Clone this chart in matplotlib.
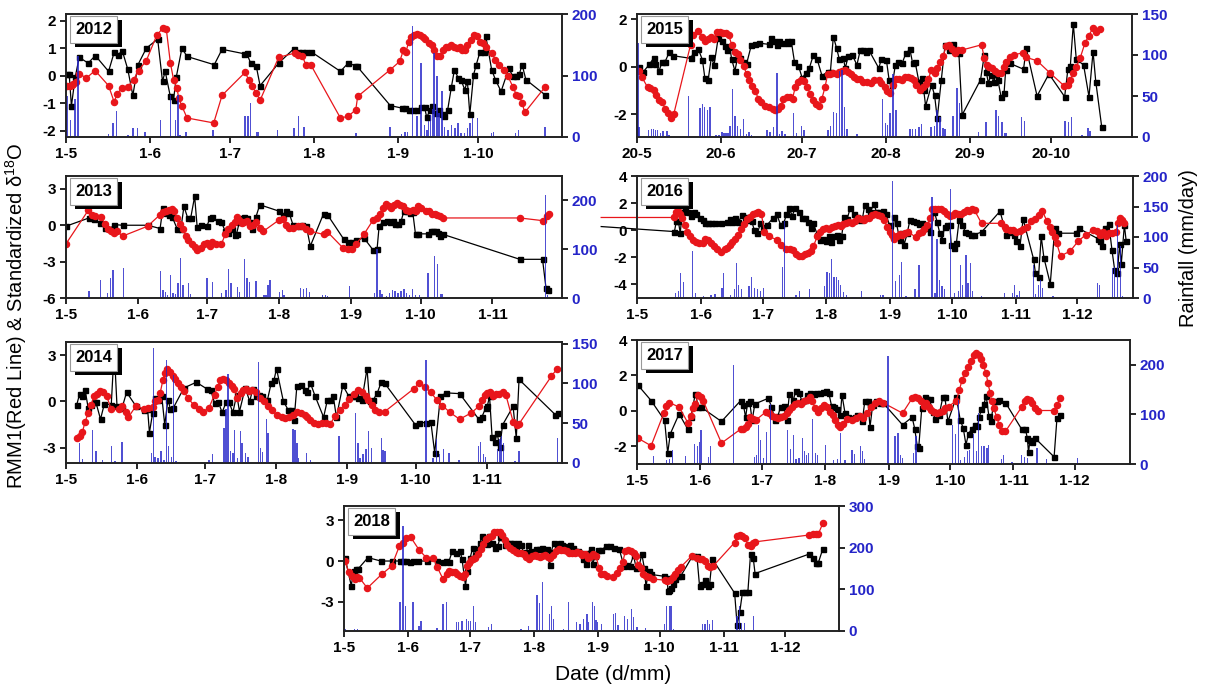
import numpy as np
import matplotlib
matplotlib.use("Agg")
from matplotlib import pyplot as plt
from matplotlib.patches import Rectangle

plt.rcParams["font.family"] = ["Liberation Sans", "DejaVu Sans"]
plt.rcParams["mathtext.fontset"] = "custom"
plt.rcParams["mathtext.rm"] = "Liberation Sans"
plt.rcParams["mathtext.it"] = "Liberation Sans:italic"
plt.rcParams["mathtext.bf"] = "Liberation Sans:bold"

# x values are days after 1 May (after 20 May for 2015)
month_start = [0, 31, 61, 92, 123, 153, 184, 214]
month_num = [5, 6, 7, 8, 9, 10, 11, 12]

# (day, standardized d18O) -- black squares
d18o_2012 = [(0.4,0.05),(1.2,0.05),(2.0,-1.10),(3.4,-0.06),(4.9,0.67),(8.2,0.46),(10.9,0.73),(15.8,0.16),(17.9,0.86),(19.2,0.76),(20.9,0.90),(22.9,0.24),(24.8,-0.71),(26.7,0.40),(29.8,1.00),(34.0,1.33),(35.8,-0.20),(36.8,0.16),(38.7,-0.75),(39.9,-0.87),(40.9,-0.05),(43.0,1.00),(44.9,0.70),(55.0,0.40),(57.9,0.96),(66.0,0.80),(67.0,0.82),(68.5,0.46),(70.6,0.34),(72.0,-0.36),(78.9,0.46),(84.5,0.98),(86.0,0.88),(87.5,0.88),(89.0,0.88),(90.8,0.88),(101.8,0.16),(104.7,0.46),(107.2,0.37),(108.0,0.34),(120.3,-1.08),(124.5,-1.17),(125.9,-1.17),(127.4,-1.25),(128.8,-1.23),(130.2,-1.25),(131.6,-1.13),(133.0,-1.13),(133.8,-1.50),(135.2,-1.23),(135.9,-1.11),(137.3,-1.35),(138.4,-1.23),(139.4,-1.40),(140.1,-1.47),(141.6,-1.23),(143.0,-0.39),(144.1,0.22),(145.5,-0.08),(146.5,-0.14),(147.9,-0.50),(148.9,-0.20),(149.8,-1.40),(151.2,0.04),(152.2,0.40),(153.6,0.88),(155.0,0.86),(155.7,1.46),(157.9,0.22),(159.3,-0.14),(161.4,-0.57),(164.3,0.28),(165.7,-0.02),(167.1,-0.02),(168.2,0.07),(169.2,0.40),(170.6,-0.14),(177.7,-0.69)]
rmm_2012 = [(0.4,-0.36),(1.3,-0.36),(2.1,-0.34),(2.7,-0.30),(3.6,-0.24),(4.9,0.07),(7.6,-0.08),(10.8,0.19),(15.8,-0.36),(17.9,-0.96),(18.9,-0.65),(20.8,-0.45),(22.9,-0.39),(25.1,-0.14),(26.9,0.19),(29.8,0.55),(33.7,1.48),(35.9,1.72),(37.2,1.70),(38.7,0.48),(39.9,-0.14),(41.2,-0.45),(41.8,-0.81),(43.0,-1.10),(44.9,-1.53),(54.8,-1.71),(57.9,-0.71),(66.4,0.12),(67.8,-0.14),(68.9,-0.36),(70.6,-0.63),(72.0,-0.89),(78.9,0.67),(84.8,0.82),(86.2,0.76),(87.7,0.70),(89.0,0.40),(90.8,0.40),(101.8,-1.53),(104.7,-1.47),(107.5,-1.23),(108.2,-0.75),(120.3,0.22),(123.8,0.52),(125.2,0.94),(126.2,0.88),(127.1,1.24),(128.1,1.40),(129.1,1.48),(130.2,1.50),(131.3,1.48),(132.3,1.42),(133.3,1.33),(134.5,1.18),(135.6,1.12),(136.6,0.94),(137.6,0.72),(138.7,0.72),(139.9,0.94),(140.9,1.06),(141.8,1.04),(142.9,1.12),(144.1,1.06),(145.1,1.00),(146.1,1.06),(146.9,0.94),(147.9,0.94),(148.9,1.12),(150.4,1.30),(151.5,1.48),(152.6,1.45),(153.6,1.24),(154.6,1.18),(155.7,1.06),(157.9,0.84),(159.3,0.58),(160.7,0.40),(162.6,0.22),(164.0,-0.02),(165.7,-0.39),(167.1,-0.69),(168.2,-0.75),(169.2,-0.99),(170.2,-1.33),(177.7,-0.41)]
rain_2012 = [(0.4,66),(1.6,28),(3.4,61),(4.4,131),(15.8,5),(17.5,23),(18.7,42),(22.9,3),(24.8,15),(26.5,15),(29.4,8),(35.1,28),(38.7,69),(40.6,28),(41.5,69),(42.4,4),(44.5,8),(54.5,11),(66.4,34),(67.5,34),(68.5,55),(70.6,8),(71.3,8),(78.4,11),(84.5,15),(86.2,34),(88.4,16),(107.5,6),(120.3,16),(124.5,5),(125.7,8),(126.7,8),(128.5,180),(130.2,34),(131.6,120),(133.0,20),(134.0,12),(134.5,26),(135.2,35),(135.9,46),(136.6,137),(137.6,99),(138.4,39),(139.4,74),(140.4,17),(141.6,11),(143.0,20),(144.4,15),(145.5,22),(146.5,6),(147.9,6),(148.9,15),(149.8,23),(150.8,31),(152.6,31),(157.9,6),(158.6,8),(166.8,6),(167.8,11),(177.7,17)]

d18o_2015 = [(0.6,0.0),(2.4,-0.21),(4.6,0.10),(6.1,0.35),(6.8,0.11),(8.2,-0.17),(9.3,0.21),(10.4,0.21),(11.9,0.60),(13.3,0.46),(19.8,0.35),(21.0,0.60),(22.7,0.73),(24.2,0.28),(25.1,-0.49),(26.3,-0.56),(27.5,0.39),(28.5,0.07),(30.0,1.20),(31.4,1.06),(32.4,0.85),(33.3,0.70),(34.3,0.82),(35.0,0.31),(36.2,-0.18),(37.2,0.39),(38.2,0.35),(39.4,0.21),(40.5,0.11),(42.3,0.92),(43.7,0.96),(45.2,0.99),(48.7,0.94),(49.5,1.20),(50.6,1.06),(51.6,0.92),(52.4,1.10),(53.9,0.99),(55.3,1.10),(56.0,0.99),(57.0,1.10),(58.2,0.21),(59.7,0.03),(61.1,-0.49),(62.3,-0.28),(63.7,-0.07),(65.2,0.49),(66.6,0.31),(68.4,-0.39),(70.5,-0.21),(71.5,-0.21),(72.6,1.27),(73.8,0.77),(74.8,0.31),(76.3,0.35),(77.0,-0.07),(78.1,0.45),(79.6,0.49),(81.3,0.07),(82.5,0.68),(83.5,0.70),(84.7,0.63),(85.7,0.70),(89.4,-0.07),(90.3,0.31),(92.2,0.28),(93.2,-0.56),(94.4,-0.77),(95.5,0.07),(96.6,0.21),(98.0,0.14),(99.4,0.56),(100.9,0.73),(101.9,0.14),(102.8,0.21),(104.2,-0.63),(105.2,-0.49),(106.0,-0.99),(106.7,-1.66),(108.9,-0.77),(110.0,-1.20),(111.0,-2.18),(112.5,-0.56),(113.9,0.92),(115.4,0.70),(116.8,0.96),(119.0,0.56),(120.2,-2.04),(127.0,-0.56),(128.4,0.49),(129.1,-0.21),(129.9,-0.70),(130.8,-0.35),(132.0,-0.63),(132.7,-0.31),(133.4,-0.56),(134.6,-1.27),(135.7,-1.13),(136.3,-0.14),(137.8,0.14),(142.9,-0.11),(143.9,0.77),(147.9,-1.24),(152.3,-0.31),(158.1,-1.27),(159.3,-0.11),(160.2,0.03),(161.3,1.80),(162.4,0.31),(165.1,0.07),(167.1,-1.27),(168.6,0.63),(169.6,-0.63),(171.8,-2.54)]
rmm_2015 = [(0.6,-0.17),(1.7,-0.42),(3.9,-0.87),(4.9,-0.92),(6.1,-0.99),(7.2,-1.20),(8.2,-1.41),(9.3,-1.48),(10.4,-1.79),(11.6,-1.97),(12.6,-2.18),(13.6,-2.00),(19.8,0.92),(20.8,1.34),(22.7,1.52),(24.2,1.24),(25.2,1.06),(26.3,1.15),(27.5,1.27),(28.5,1.15),(29.5,1.46),(30.7,1.48),(31.8,1.41),(32.9,1.41),(33.9,1.34),(35.0,0.92),(36.2,0.63),(37.2,0.54),(38.2,0.28),(39.4,0.03),(40.5,-0.31),(41.5,-0.56),(42.5,-0.82),(43.7,-1.01),(44.9,-1.38),(45.9,-1.48),(47.3,-1.66),(48.8,-1.72),(50.2,-1.78),(51.2,-1.83),(52.1,-1.80),(53.1,-1.66),(54.1,-1.38),(55.3,-1.27),(56.4,-1.30),(57.5,-1.35),(58.5,-0.87),(59.6,-0.63),(60.8,-0.56),(61.8,-0.59),(63.0,-0.87),(64.0,-1.15),(65.1,-1.41),(66.1,-1.58),(67.1,-1.66),(68.3,-1.38),(69.5,-0.87),(70.5,-0.31),(71.5,-0.31),(72.6,-0.28),(73.8,-0.31),(74.8,-0.21),(75.8,-0.17),(77.0,-0.14),(78.1,-0.21),(79.2,-0.31),(80.2,-0.42),(81.3,-0.54),(82.5,-0.54),(83.5,-0.63),(84.9,-0.63),(86.4,-0.68),(87.8,-0.56),(89.3,-0.56),(90.3,-0.68),(91.5,-0.87),(92.6,-1.01),(93.6,-1.10),(94.6,-0.77),(95.8,-0.54),(97.0,-0.54),(98.0,-0.56),(99.0,-0.45),(100.1,-0.42),(101.3,-0.49),(102.3,-0.56),(103.3,-0.77),(104.5,-0.99),(105.6,-0.85),(106.7,-0.73),(107.7,-0.54),(108.8,-0.14),(110.0,-0.28),(111.0,-0.07),(112.0,0.21),(113.2,0.45),(114.3,0.85),(115.3,0.92),(116.4,0.73),(117.5,0.56),(118.7,0.70),(120.1,0.70),(127.4,0.92),(128.4,0.35),(129.4,0.07),(130.2,-0.03),(131.3,-0.07),(132.3,-0.17),(133.4,-0.25),(134.6,-0.25),(135.6,0.00),(136.6,0.21),(137.8,0.42),(139.2,0.49),(142.8,0.59),(143.8,0.39),(147.9,0.25),(152.5,-0.25),(158.0,-0.82),(159.2,-0.77),(160.2,-0.56),(161.2,-0.28),(162.4,0.00),(163.8,0.35),(165.6,0.99),(167.0,1.30),(168.5,1.62),(169.6,1.48),(171.1,1.58)]
rain_2015 = [(0.3,115),(0.7,12),(4.3,9),(5.4,10),(6.1,10),(6.8,8),(7.6,8),(8.7,5),(9.7,7),(11.1,7),(11.9,2),(19.1,50),(23.4,35),(24.2,40),(24.9,37),(26.0,33),(27.1,37),(29.2,3),(30.4,2),(31.4,6),(32.1,5),(32.8,5),(33.6,5),(34.3,14),(35.3,59),(36.2,26),(37.2,14),(38.2,10),(39.4,22),(40.5,4),(41.5,6),(42.3,2),(48.0,9),(49.2,6),(50.4,12),(51.7,78),(52.7,4),(53.5,7),(54.6,4),(57.9,29),(58.9,5),(60.8,14),(61.8,8),(70.5,9),(71.5,14),(72.6,31),(73.8,29),(74.8,81),(75.8,82),(76.7,37),(77.7,10),(81.3,4),(90.7,46),(91.8,17),(92.6,15),(93.6,29),(94.6,77),(95.8,33),(100.9,10),(101.9,10),(103.0,10),(104.2,12),(105.2,16),(108.8,12),(110.0,14),(111.0,33),(112.0,24),(113.2,11),(113.9,10),(116.8,26),(118.2,60),(119.2,41),(126.2,6),(129.1,18),(132.7,33),(133.7,26),(134.9,18),(136.0,5),(136.6,5),(142.1,24),(143.3,20),(158.3,20),(159.5,18),(160.6,24),(164.5,3),(166.7,11),(167.4,7)]

d18o_2013 = [(0,-0.08),(9.9,0.60),(12.1,0.55),(14.5,0.19),(17.0,-0.22),(19.2,-0.27),(20.8,0.05),(24.4,0.0),(35.2,0.0),(40.6,-0.27),(41.8,1.42),(43.0,1.0),(44.3,0.87),(45.9,0.65),(47.9,-0.27),(49.5,-0.35),(50.9,1.55),(52.5,0.60),(53.8,0.60),(55.5,2.37),(56.6,-0.16),(58.3,0.05),(60.8,-0.08),(62.1,0.60),(63.2,0.65),(65.4,0.33),(67.0,0.27),(68.7,-0.49),(69.8,-0.63),(71.5,-0.35),(72.7,-0.82),(73.6,-0.71),(74.8,0.27),(76.0,0.60),(77.0,0.65),(78.1,0.60),(79.3,0.27),(80.3,-0.27),(81.9,0.65),(83.6,1.69),(92.1,1.15),(93.5,0.87),(95.1,1.15),(96.3,1.0),(97.9,0.05),(100.4,-0.08),(102.0,0.05),(103.7,-0.08),(105.4,-1.72),(111.1,0.93),(112.8,0.87),(119.9,-1.17),(121.5,-1.36),(123.2,-1.36),(125.2,-1.25),(128.5,-1.04),(132.6,-2.07),(134.2,-1.99),(135.1,-0.08),(136.7,0.27),(138.4,0.33),(139.7,0.27),(140.9,0.33),(142.0,0.11),(143.3,0.11),(144.6,0.33),(145.8,1.20),(147.0,1.15),(148.3,1.0),(149.6,1.09),(150.8,-0.76),(151.9,-0.71),(156.2,-0.71),(157.4,-0.49),(158.5,-0.44),(159.5,-0.44),(160.7,-0.63),(161.5,-0.90),(162.8,-0.76),(195.8,-2.81),(205.6,-2.81),(207.1,-5.19),(208.0,-5.30)]
rmm_2013 = [(0,-1.53),(9.6,1.23),(11.2,0.87),(12.5,0.74),(14.9,0.65),(17.0,0.11),(18.2,-0.35),(19.5,-0.49),(20.8,-0.63),(22.0,-0.49),(24.4,-0.90),(35.2,-0.08),(40.6,0.87),(41.8,1.09),(43.0,1.15),(44.3,1.28),(45.6,1.36),(46.7,1.15),(47.9,0.60),(49.2,0.11),(50.5,-0.27),(51.7,-0.90),(52.8,-1.25),(54.2,-1.58),(55.5,-1.80),(56.6,-2.07),(58.3,-1.85),(59.4,-1.53),(60.8,-1.45),(62.1,-1.72),(63.2,-1.36),(64.9,-1.53),(67.0,-1.58),(68.7,-0.76),(69.8,-0.35),(71.5,0.05),(72.7,0.27),(73.6,0.65),(74.8,0.46),(76.0,0.19),(77.0,0.27),(78.1,0.33),(79.3,-0.08),(80.6,0.05),(81.9,0.27),(83.6,-0.22),(85.2,-0.49),(92.1,0.46),(93.5,0.55),(95.1,0.05),(96.3,-0.22),(97.9,-0.22),(100.1,-0.08),(102.0,-0.08),(103.7,-0.27),(105.4,-0.49),(111.1,-0.76),(112.8,-0.55),(119.4,-1.85),(121.5,-1.99),(123.2,-1.99),(125.2,-1.53),(128.5,-0.76),(132.6,0.46),(134.2,0.60),(135.4,0.93),(136.7,1.42),(138.0,1.75),(139.2,1.55),(140.4,1.42),(141.7,1.64),(143.0,1.83),(144.2,1.64),(145.3,1.55),(146.6,1.28),(148.0,1.15),(149.6,1.28),(150.8,1.15),(151.9,1.55),(153.2,1.42),(155.2,1.20),(156.5,1.15),(157.9,0.93),(159.0,0.93),(160.2,0.82),(161.5,0.74),(162.8,0.60),(195.8,0.60),(205.6,0.38),(207.4,0.74),(208.6,0.93)]
rain_2013 = [(9.9,15),(11.7,1),(14.9,37),(17.8,11),(19.2,40),(20.3,57),(24.8,61),(36.0,3),(40.9,55),(41.8,17),(43.0,13),(43.9,7),(45.1,48),(46.2,10),(47.2,8),(48.4,30),(49.5,81),(50.5,27),(51.7,3),(52.8,30),(53.8,8),(57.1,3),(60.8,40),(62.1,3),(63.2,32),(67.0,10),(69.0,17),(70.0,59),(71.2,30),(74.0,23),(74.8,13),(77.0,79),(78.1,40),(79.3,33),(80.6,3),(81.9,35),(83.1,3),(85.5,7),(86.3,7),(87.2,27),(88.0,37),(92.1,13),(93.5,17),(94.1,7),(101.2,21),(102.5,19),(103.7,21),(105.0,13),(110.6,7),(112.0,7),(112.8,5),(120.0,1),(122.2,25),(123.5,1),(129.3,3),(133.1,10),(134.1,100),(135.4,17),(136.4,8),(138.4,5),(139.7,10),(140.9,17),(142.0,15),(143.3,10),(144.6,15),(145.8,19),(147.0,10),(148.3,7),(149.6,19),(150.8,7),(152.4,7),(156.2,52),(157.4,1),(159.0,87),(160.2,70),(161.5,8),(162.3,8),(206.9,212),(207.7,7)]

d18o_2016 = [(-17.4,0.27),(18.2,-0.10),(19.1,0.67),(20.1,0.67),(21.0,-0.22),(22.0,1.35),(23.3,1.71),(24.8,1.35),(26.3,1.06),(27.6,1.35),(28.9,1.16),(30.4,0.87),(31.9,0.75),(33.2,0.51),(34.5,0.51),(36.0,0.51),(37.9,0.51),(40.7,0.51),(43.5,0.58),(45.0,0.82),(46.3,0.63),(47.7,0.92),(49.2,0.58),(51.0,1.11),(52.5,0.99),(53.8,0.75),(55.7,0.67),(57.0,0.02),(58.5,-0.22),(60.0,0.51),(61.4,0.27),(63.2,0.39),(66.0,0.87),(67.9,1.16),(69.8,0.39),(71.3,0.51),(72.6,1.16),(73.9,1.64),(75.4,1.06),(76.9,1.64),(78.8,1.35),(80.1,0.87),(81.4,0.87),(82.9,0.58),(84.4,0.14),(85.7,0.51),(87.6,-0.34),(88.9,-0.70),(90.4,-0.63),(91.9,-0.82),(93.2,-0.46),(94.2,-0.87),(95.7,-0.46),(97.0,-0.34),(98.3,-0.70),(99.4,-0.46),(100.8,0.99),(102.1,0.82),(103.6,1.64),(105.4,1.16),(106.9,0.99),(108.3,0.75),(109.6,0.92),(110.7,1.88),(112.0,1.59),(113.3,1.35),(115.2,1.95),(116.3,1.35),(117.6,1.35),(119.5,1.40),(120.8,1.23),(122.7,0.39),(124.2,-0.39),(125.1,0.99),(126.1,0.51),(127.6,-0.70),(128.9,-0.22),(129.8,-1.06),(131.3,-0.22),(132.6,0.75),(134.0,0.67),(135.5,0.63),(137.0,0.43),(138.3,0.51),(139.6,0.27),(141.1,0.14),(142.6,-0.10),(144.5,1.35),(145.8,0.63),(147.1,-0.22),(148.2,-0.70),(149.5,0.27),(150.5,0.39),(152.0,0.39),(152.7,-1.06),(153.8,-1.30),(155.2,-0.94),(156.5,0.75),(158.0,0.39),(159.5,-0.10),(160.8,-0.22),(162.1,-0.34),(163.6,-0.34),(167.4,-0.14),(176.4,1.40),(179.5,-0.34),(181.4,-0.10),(183.3,-0.34),(184.2,-0.82),(186.1,-1.18),(187.6,0.82),(192.7,-2.14),(193.6,-3.18),(195.1,-3.42),(196.4,-0.46),(197.7,-2.02),(200.8,-3.95),(203.0,0.14),(204.5,-0.22),(213.3,-0.22),(214.6,0.14),(224.0,-0.63),(225.1,-0.77),(225.9,-1.18),(227.4,0.14),(229.3,0.43),(230.8,-1.49),(232.1,-2.94),(233.4,-3.18),(234.5,-1.01),(235.3,-2.51),(236.8,0.39),(237.7,-0.82)]
rmm_2016 = [(-17.4,0.94),(18.2,0.94),(19.1,1.35),(20.1,1.40),(21.0,1.23),(22.0,0.92),(23.3,0.39),(24.4,-0.10),(25.7,-0.39),(27.0,-0.70),(28.5,-0.87),(30.0,-0.94),(31.9,-0.94),(33.2,-0.63),(34.5,-0.70),(36.0,-0.94),(37.5,-1.18),(38.8,-1.42),(40.7,-1.59),(42.6,-1.42),(43.9,-1.30),(45.4,-1.06),(46.3,-0.87),(47.7,-0.63),(49.2,-0.34),(50.7,0.10),(52.0,0.43),(53.3,0.82),(54.8,0.99),(56.3,1.16),(57.6,1.30),(58.9,1.35),(60.4,1.23),(61.9,-0.10),(64.2,-0.46),(67.9,-0.70),(70.2,-1.11),(72.6,-1.42),(74.5,-1.35),(75.8,-1.49),(77.3,-1.73),(78.8,-1.90),(80.1,-1.90),(81.4,-1.78),(82.9,-1.66),(84.4,-1.54),(85.7,-1.18),(87.6,-0.46),(88.9,-0.10),(90.4,0.10),(91.9,0.14),(93.2,0.10),(94.6,0.27),(96.1,0.34),(97.6,0.39),(98.9,0.34),(100.2,0.43),(101.7,0.51),(103.2,0.63),(104.5,0.51),(105.8,0.67),(107.3,0.92),(108.8,0.82),(110.1,0.75),(111.4,0.87),(112.9,0.92),(114.4,1.11),(115.8,1.23),(117.1,1.11),(118.6,1.06),(120.1,0.75),(121.4,0.27),(122.7,-0.10),(123.8,-0.34),(125.1,-0.63),(126.5,-0.46),(127.6,-0.29),(128.9,-0.34),(130.2,-0.22),(131.7,-0.10),(135.5,-0.53),(137.0,-0.22),(138.3,-0.10),(139.6,0.10),(141.1,0.39),(142.6,0.92),(143.3,1.59),(144.8,1.59),(146.3,1.54),(147.7,1.59),(149.0,1.40),(150.5,1.23),(152.0,1.06),(153.3,1.11),(154.6,1.30),(156.1,1.23),(157.5,1.23),(158.9,1.35),(160.2,1.47),(161.4,1.40),(162.7,1.54),(164.0,1.47),(167.4,0.51),(176.7,0.51),(178.6,0.27),(179.5,0.10),(181.4,0.02),(182.7,0.02),(184.2,-0.10),(186.1,-0.05),(187.6,0.10),(189.5,0.27),(191.4,0.67),(193.2,0.82),(195.5,1.11),(197.0,1.40),(199.2,0.67),(200.8,0.27),(201.5,-0.10),(203.0,-0.53),(203.9,-0.94),(205.8,-1.90),(210.5,-1.54),(214.3,-0.82),(218.0,-0.34),(221.8,0.02),(223.6,-0.05),(225.1,-0.34),(226.5,-0.14),(227.8,-0.39),(229.3,-0.22),(230.8,-0.22),(232.6,-0.10),(233.9,0.51),(234.9,0.87),(235.8,0.75),(236.8,0.51)]
rain_2016 = [(18.8,8),(20.1,12),(21.0,41),(22.5,27),(27.0,77),(28.5,8),(32.3,3),(36.0,5),(37.9,6),(41.3,17),(42.0,41),(45.4,5),(47.3,14),(48.2,57),(49.5,22),(50.7,15),(52.5,1),(54.4,19),(55.7,35),(57.0,17),(58.5,14),(60.0,12),(61.4,16),(64.2,1),(70.7,51),(71.7,127),(77.3,5),(78.8,11),(83.9,14),(86.7,1),(91.0,19),(92.3,42),(93.4,41),(94.6,64),(95.7,35),(97.0,35),(97.9,30),(98.9,22),(100.2,10),(101.7,5),(105.4,1),(109.2,11),(112.9,1),(118.2,5),(119.5,5),(124.2,192),(125.7,28),(127.6,38),(128.4,59),(130.7,3),(135.1,14),(137.0,54),(143.3,165),(144.8,8),(145.8,97),(147.1,30),(148.2,19),(149.5,14),(152.3,178),(154.2,8),(156.1,11),(157.0,54),(158.0,22),(159.8,70),(160.8,24),(162.1,57),(163.2,11),(167.4,3),(178.6,8),(182.4,8),(183.3,22),(184.6,5),(185.7,12),(192.7,54),(193.6,6),(195.1,22),(195.9,30),(197.0,16),(202.1,3),(223.6,24),(224.6,22),(231.1,49),(232.1,51),(233.4,120),(234.9,86),(235.8,3)]

d18o_2014 = [(4.7,-0.22),(6.0,0.50),(7.2,0.33),(8.4,0.72),(9.7,-0.44),(11.1,-0.22),(12.2,-0.07),(13.1,-0.07),(15.1,-1.16),(16.8,-0.15),(19.8,-0.22),(21.1,3.38),(22.3,-0.28),(24.5,-0.44),(26.5,0.59),(30.7,-0.33),(34.0,-0.59),(35.7,-0.50),(36.5,-2.03),(37.9,-0.76),(39.0,0.22),(40.2,0.11),(41.9,0.33),(43.2,-1.53),(44.6,0.11),(45.7,-0.50),(46.9,-0.44),(51.6,0.87),(57.0,1.24),(61.6,0.81),(63.3,0.76),(65.0,-0.11),(66.7,-0.07),(68.3,-0.72),(70.0,-0.07),(71.4,-0.07),(73.0,-0.72),(74.7,0.44),(75.9,-0.66),(78.4,0.87),(80.4,0.0),(81.7,0.81),(83.1,0.33),(84.3,0.44),(85.9,0.33),(88.1,0.07),(89.8,1.20),(91.0,1.38),(92.1,2.12),(95.1,0.0),(97.2,-0.55),(98.5,-0.55),(99.8,-1.20),(101.0,0.98),(102.7,1.03),(104.4,0.76),(105.5,0.59),(106.9,1.20),(108.9,0.37),(112.7,-1.03),(114.4,0.11),(115.6,0.11),(116.9,0.37),(118.3,-1.03),(121.1,1.03),(123.6,0.37),(125.0,0.37),(126.6,0.37),(127.8,0.22),(129.5,0.11),(131.7,2.12),(132.8,0.0),(134.5,0.11),(136.2,0.55),(137.9,1.24),(139.5,1.16),(152.9,-1.53),(154.6,-1.38),(157.5,-1.38),(159.6,-1.31),(161.3,-3.34),(163.8,0.33),(166.3,0.55),(172.2,0.50),(180.6,-1.16),(181.9,-1.03),(183.6,-0.44),(184.3,-0.33),(185.3,0.33),(186.4,-2.29),(187.6,-2.62),(188.6,-2.07),(189.8,-2.95),(191.0,-1.53),(195.6,-0.33),(197.0,-2.40),(198.2,1.42),(214.1,-0.87),(215.4,-0.76)]
rmm_2014 = [(4.7,-2.40),(6.0,-2.25),(7.2,-1.97),(8.4,-1.31),(9.7,-0.76),(11.1,-0.22),(12.2,0.33),(13.4,0.50),(14.7,0.66),(16.1,0.59),(17.8,0.33),(19.8,-0.50),(23.1,-0.50),(24.5,-0.33),(26.1,-0.72),(27.3,-1.03),(30.7,-0.28),(34.0,-0.50),(35.7,-0.44),(37.9,-0.37),(39.0,0.0),(40.2,0.11),(41.2,0.55),(42.4,1.38),(43.2,1.86),(44.4,2.07),(45.7,1.90),(46.9,1.64),(47.9,1.46),(49.1,1.20),(50.3,0.94),(51.6,0.66),(53.3,0.22),(55.8,-0.22),(58.0,-0.50),(60.0,-0.66),(62.5,-0.44),(65.0,0.44),(66.3,0.94),(67.5,1.38),(68.7,1.46),(70.0,1.38),(71.4,1.20),(72.5,0.98),(73.7,0.81),(75.0,0.22),(76.4,0.55),(77.6,0.76),(78.7,0.81),(80.1,0.66),(81.4,0.72),(83.1,0.59),(84.8,0.22),(86.8,0.0),(88.4,-0.33),(90.1,-0.59),(92.1,-0.87),(94.3,-1.03),(96.0,-1.09),(97.7,-1.03),(99.3,-0.87),(101.0,-0.72),(102.7,-0.76),(104.4,-0.87),(105.5,-1.03),(106.9,-1.20),(108.5,-1.38),(110.2,-1.46),(111.9,-1.42),(113.9,-1.42),(115.6,-1.46),(117.8,-0.94),(119.9,-0.55),(121.9,-0.22),(124.0,0.15),(126.1,0.50),(127.8,0.76),(129.5,0.59),(131.2,0.37),(132.3,0.11),(134.0,-0.22),(135.3,-0.55),(137.0,-0.72),(139.5,-0.66),(152.1,0.81),(154.6,1.20),(157.1,0.94),(159.6,0.59),(162.1,0.11),(164.7,-0.28),(168.0,-0.72),(172.2,-1.16),(177.2,-0.76),(180.6,-0.33),(181.9,0.11),(183.1,0.44),(184.3,0.55),(185.6,0.59),(186.9,0.33),(188.1,0.50),(189.4,0.50),(191.1,0.59),(192.4,0.44),(195.6,-1.31),(197.3,-1.53),(198.2,-1.46),(212.4,1.64),(214.9,2.12)]
rain_2014 = [(6.0,25),(7.2,5),(11.7,41),(13.1,15),(16.1,4),(19.8,21),(21.4,3),(24.5,27),(37.4,13),(38.2,145),(39.0,8),(40.2,6),(41.5,15),(42.9,4),(44.1,129),(44.9,21),(46.2,8),(46.9,110),(48.2,2),(62.5,4),(64.2,11),(69.2,44),(70.0,68),(70.9,112),(72.0,15),(73.0,13),(73.7,41),(75.0,6),(76.4,40),(77.0,25),(78.4,12),(79.7,8),(84.3,127),(85.1,19),(85.9,14),(87.6,55),(88.4,38),(99.3,43),(100.2,42),(101.0,25),(101.8,6),(105.2,12),(106.9,4),(119.4,34),(126.6,63),(127.8,25),(128.6,6),(130.0,11),(131.2,17),(132.3,40),(133.7,19),(137.9,32),(138.7,16),(139.5,15),(157.5,130),(160.5,6),(162.1,30),(163.5,11),(165.2,17),(167.5,13),(171.9,4),(180.6,21),(181.4,27),(182.6,11),(183.6,8),(188.9,18),(189.8,30),(190.6,34),(191.5,25),(196.5,2),(198.2,15),(214.9,32)]

d18o_2017 = [(0.4,1.46),(6.9,0.58),(13.5,-0.54),(15.0,-2.38),(16.3,-1.29),(20.6,-0.17),(24.8,-1.03),(26.3,-0.36),(28.5,0.96),(30.0,0.24),(31.3,0.21),(41.3,-0.60),(50.7,0.58),(52.0,0.34),(53.1,-0.36),(54.1,0.47),(55.0,0.58),(56.3,-0.54),(57.6,0.39),(64.2,0.71),(65.7,0.24),(67.5,-0.51),(68.9,-0.28),(70.2,0.24),(71.7,0.28),(73.2,-0.54),(74.5,0.96),(76.4,0.62),(77.7,1.14),(79.2,1.03),(80.7,0.53),(82.0,0.62),(83.3,0.90),(84.8,1.03),(86.3,0.96),(87.6,1.03),(89.5,0.99),(90.8,1.09),(92.3,1.14),(93.8,0.99),(95.1,0.28),(96.4,0.21),(97.9,0.09),(99.4,-0.23),(100.2,0.90),(101.7,-0.13),(103.2,-0.36),(105.1,-0.41),(106.4,-0.32),(107.7,-0.23),(110.1,-0.60),(111.4,0.58),(112.9,0.53),(113.9,-0.92),(115.2,0.34),(116.7,0.58),(118.6,0.47),(120.1,0.47),(129.8,-0.79),(134.5,-0.36),(135.8,-1.03),(137.0,-2.00),(137.7,-2.10),(139.2,0.15),(140.7,0.77),(142.0,0.66),(143.0,0.66),(144.5,-0.04),(145.8,-0.47),(147.7,-0.23),(149.5,0.77),(150.5,0.77),(152.0,-0.60),(156.1,0.77),(158.0,-0.51),(159.5,-0.98),(160.8,-1.91),(162.1,-1.29),(163.6,-1.03),(165.1,-0.79),(166.4,-0.88),(167.4,-0.32),(168.3,0.09),(169.6,0.39),(170.7,0.84),(172.0,-0.28),(173.0,-0.60),(174.5,0.53),(175.8,0.58),(177.1,0.62),(180.1,0.47),(188.0,-1.03),(189.9,-1.03),(190.8,-1.54),(191.4,-2.35),(192.1,-1.63),(193.2,-1.78),(194.6,-1.54),(203.9,-2.60),(205.3,-0.41),(206.8,-0.23)]
rmm_2017 = [(0.4,-1.54),(6.9,-1.97),(13.1,-0.13),(14.4,0.28),(15.8,0.47),(20.6,0.21),(24.8,-0.66),(26.3,-0.28),(27.6,0.15),(28.5,0.39),(30.0,0.90),(31.3,0.81),(32.3,0.58),(41.3,-1.82),(50.7,-1.03),(52.0,-1.03),(53.3,-0.92),(54.4,-0.73),(55.2,-0.36),(56.7,-0.47),(58.2,-0.51),(63.2,-0.04),(64.5,-0.13),(66.0,-0.28),(67.5,-0.36),(68.9,-0.41),(70.2,-0.36),(71.7,-0.28),(73.2,-0.13),(74.5,0.06),(75.8,0.24),(77.3,0.39),(78.8,0.47),(80.1,0.39),(81.4,0.58),(82.9,0.62),(84.4,0.77),(85.7,0.53),(87.1,0.15),(88.6,-0.04),(90.1,0.15),(91.4,0.34),(92.7,0.24),(94.2,-0.09),(95.7,-0.23),(97.0,-0.51),(98.3,-0.79),(99.4,-0.92),(100.8,-0.73),(102.6,-0.47),(105.1,-0.51),(106.9,-0.41),(108.8,-0.28),(110.7,-0.41),(112.6,-0.13),(114.4,0.21),(116.3,0.43),(118.2,0.53),(120.1,0.47),(129.8,-0.13),(134.5,0.71),(135.8,0.81),(137.3,0.71),(138.8,0.53),(140.2,0.28),(141.5,0.47),(142.6,0.24),(143.9,0.06),(145.2,-0.04),(146.7,-0.13),(148.2,-0.09),(149.5,0.02),(150.8,0.15),(152.3,0.24),(156.1,0.58),(157.6,1.18),(158.9,1.74),(160.2,2.12),(161.7,2.46),(163.2,2.83),(164.5,3.15),(165.9,3.25),(167.0,3.15),(168.3,2.91),(169.2,2.59),(170.7,2.12),(171.5,1.59),(172.6,1.03),(173.4,0.53),(174.5,0.15),(175.8,-0.36),(177.1,-0.79),(178.2,-1.16),(180.1,-1.16),(188.0,0.21),(189.5,0.58),(190.8,0.66),(192.1,0.62),(193.2,0.43),(194.6,0.15),(195.9,0.02),(203.9,0.02),(205.3,0.34),(206.8,0.71)]
rain_2017 = [(7.9,17),(14.4,9),(15.8,10),(17.3,29),(23.8,17),(28.1,41),(29.5,36),(30.4,44),(31.3,68),(35.1,15),(36.0,37),(47.3,200),(57.6,15),(58.5,19),(59.5,79),(60.4,49),(61.9,12),(63.2,64),(65.1,120),(73.5,69),(75.0,30),(76.4,59),(77.7,10),(79.2,12),(81.0,52),(82.0,26),(82.9,19),(83.9,22),(85.7,91),(87.1,22),(88.2,19),(92.3,39),(96.1,9),(97.9,10),(99.4,62),(101.7,9),(105.1,29),(106.4,21),(109.2,36),(110.1,26),(111.4,10),(122.7,217),(126.1,56),(127.6,62),(128.9,19),(129.8,12),(135.1,23),(136.4,56),(154.2,79),(155.7,61),(157.0,130),(158.3,9),(160.2,15),(161.7,26),(162.7,28),(164.5,61),(165.9,26),(167.0,103),(168.3,36),(169.6,36),(171.1,32),(172.0,39),(178.2,10),(179.0,19),(183.3,5),(188.0,19),(189.5,15),(190.8,12),(195.5,32),(200.2,10),(215.2,12)]

d18o_2018 = [(0.5,0.25),(3.5,-1.81),(4.7,-0.74),(5.7,-0.57),(6.9,-0.57),(11.6,0.25),(17.9,0.0),(23.4,0.0),(27.2,0.0),(28.6,0.0),(30.3,0.0),(32.1,-0.07),(33.4,0.0),(35.9,0.0),(40.4,0.0),(45.1,0.0),(48.0,-0.07),(49.4,0.0),(50.8,-0.07),(52.5,0.74),(54.2,0.62),(56.3,0.74),(57.2,0.17),(58.9,-1.81),(59.8,-0.74),(61.2,0.25),(62.4,0.99),(63.3,0.42),(64.6,0.87),(65.9,1.36),(67.1,1.81),(68.1,1.61),(69.3,1.24),(70.5,1.86),(71.9,1.36),(73.3,0.99),(74.5,1.07),(75.7,1.74),(76.8,1.74),(78.0,1.17),(79.2,1.36),(80.6,1.36),(82.0,1.36),(83.2,1.12),(84.4,1.32),(85.8,1.17),(87.2,0.62),(88.4,0.67),(89.3,1.17),(90.6,0.74),(91.9,0.42),(93.1,0.92),(94.5,0.87),(95.8,0.99),(97.0,0.57),(98.3,0.92),(99.7,-0.32),(100.5,0.67),(101.7,1.36),(103.1,1.17),(104.5,1.36),(105.7,1.17),(106.9,1.12),(108.3,0.99),(109.7,1.17),(110.9,0.99),(112.1,0.74),(113.5,0.74),(114.9,0.62),(116.1,0.17),(117.3,-0.25),(118.4,0.62),(119.6,0.92),(120.5,-0.25),(121.8,0.37),(123.0,0.82),(124.8,0.82),(127.0,1.07),(129.1,1.12),(130.8,0.99),(133.4,0.92),(135.7,-0.37),(136.9,-0.32),(138.6,-0.37),(140.4,0.42),(141.6,-0.50),(143.0,-0.42),(144.4,0.50),(145.6,-0.50),(146.4,-1.86),(147.8,-0.74),(149.0,-0.99),(155.1,-1.12),(156.5,-1.24),(157.2,-2.23),(157.7,-2.11),(158.6,-1.99),(159.5,-1.66),(160.3,-1.32),(161.7,-1.07),(163.4,-1.07),(169.0,0.37),(171.1,0.37),(172.4,-1.86),(173.8,-1.66),(175.0,-1.36),(176.3,-1.81),(177.3,-1.66),(178.5,0.17),(189.4,-2.36),(190.6,-4.71),(191.9,-3.72),(193.2,-2.31),(194.6,-2.31),(195.8,-2.31),(197.1,0.50),(198.4,0.25),(199.3,-0.92),(225.3,0.50),(227.6,0.25),(228.8,-0.12),(230.0,-0.12),(232.2,0.92)]
rmm_2018 = [(0.5,0.0),(2.3,-0.82),(4.0,-1.12),(5.2,-1.32),(6.4,-1.17),(7.5,-1.24),(11.3,-1.99),(18.2,-0.99),(23.1,-0.37),(26.9,1.12),(28.6,1.36),(30.3,1.66),(32.4,1.74),(36.4,0.82),(39.9,0.25),(43.3,0.25),(45.1,-0.42),(48.0,-1.32),(49.7,-0.99),(51.1,-0.74),(52.5,-0.82),(53.7,-0.82),(54.9,-0.92),(56.3,-1.07),(57.7,-1.17),(58.9,-0.99),(59.8,-0.37),(60.7,-0.12),(61.5,0.07),(62.4,0.17),(63.6,0.25),(65.0,0.50),(66.4,0.87),(67.6,1.24),(68.8,1.61),(70.2,1.74),(71.6,1.86),(72.8,2.11),(74.0,2.16),(75.4,2.16),(76.8,1.91),(78.0,1.56),(79.2,1.17),(80.6,0.99),(82.0,0.82),(83.2,0.67),(84.4,0.62),(85.8,0.62),(87.2,0.50),(88.4,0.32),(89.6,0.17),(91.0,0.37),(92.4,0.42),(93.6,0.37),(94.8,0.32),(96.2,0.37),(97.6,0.42),(98.8,0.32),(100.0,0.25),(101.4,0.42),(102.8,0.74),(104.0,0.92),(105.2,0.82),(106.6,0.82),(108.0,0.74),(109.2,0.62),(110.4,0.57),(111.8,0.62),(113.2,0.67),(114.4,0.57),(115.6,0.42),(117.0,0.50),(118.4,0.25),(119.6,0.37),(120.8,0.50),(122.2,0.37),(123.6,-0.50),(124.8,-0.92),(126.0,-0.99),(127.4,-1.07),(130.5,-1.17),(132.6,-0.87),(133.9,-0.50),(135.2,-0.07),(136.4,0.74),(137.8,0.82),(139.2,0.74),(140.4,0.57),(141.6,0.37),(142.6,-0.32),(143.8,-0.50),(145.1,-0.92),(146.4,-1.07),(147.8,-1.17),(149.6,-1.32),(155.5,-1.41),(156.8,-1.49),(158.2,-1.36),(159.4,-1.17),(160.7,-0.92),(162.0,-0.67),(163.4,-0.42),(168.6,0.37),(171.1,0.25),(172.4,0.17),(173.8,0.12),(175.0,0.0),(176.3,-0.37),(177.6,-0.42),(179.0,-0.37),(189.4,1.36),(190.6,1.86),(191.9,1.91),(193.2,1.86),(194.6,1.66),(195.8,1.17),(197.1,1.07),(198.1,1.32),(199.3,1.41),(225.3,1.91),(227.6,1.99),(228.8,1.99),(230.0,1.99),(232.2,2.80)]
rain_2018 = [(0.9,4),(5.2,6),(6.4,4),(23.4,3),(27.2,70),(28.6,252),(30.0,60),(33.4,70),(36.4,12),(37.3,24),(45.1,8),(48.0,64),(49.7,70),(54.6,22),(55.5,22),(57.2,24),(59.4,28),(60.5,24),(61.5,24),(62.9,60),(63.6,22),(70.2,10),(71.6,16),(85.8,6),(89.3,12),(93.6,86),(94.8,68),(96.2,118),(99.7,40),(100.5,60),(101.4,28),(106.6,6),(108.7,70),(112.7,22),(114.4,18),(116.1,28),(117.8,42),(118.7,22),(120.5,70),(121.3,60),(122.2,26),(123.0,22),(124.8,18),(130.5,40),(131.7,44),(132.9,14),(136.0,36),(137.4,30),(139.5,54),(140.4,34),(142.1,10),(146.1,8),(155.5,16),(156.5,60),(157.7,60),(158.6,60),(159.9,6),(173.8,16),(175.0,16),(176.3,26),(177.3,18),(178.5,26),(190.6,36),(191.9,60),(192.9,20),(194.1,20),(198.4,36)]

W, H = 1207, 688
BLUE = "#2424c8"
fig = plt.figure(figsize=(W / 100, H / 100), dpi=100)


def split(pairs):
    a = np.asarray(pairs, dtype=float)
    return a[:, 0], a[:, 1]


def year_box(ax, rect, year):
    L, R, T, B = rect
    w, h = R - L, B - T
    bw, bh = 47, 27
    x0, y0 = 4 / w, 1 - (1.5 + bh) / h
    ax.add_patch(Rectangle((x0 + 5 / w, y0 - 4 / h), bw / w, bh / h, transform=ax.transAxes,
                           facecolor="black", edgecolor="none", zorder=10, clip_on=False))
    ax.add_patch(Rectangle((x0, y0), bw / w, bh / h, transform=ax.transAxes,
                           facecolor="white", edgecolor="#999999", linewidth=0.8, zorder=11, clip_on=False))
    ax.text(x0 + bw / w / 2, y0 + bh / h / 2, year, transform=ax.transAxes, ha="center", va="center",
            fontsize=12, fontweight="bold", zorder=12)


def panel(rect, year, black, red, rain, xlim, ylim, yticks, rlim, rticks, nmonths, prefix="1-"):
    L, R, T, B = rect
    ax = fig.add_axes([L / W, 1 - B / H, (R - L) / W, (B - T) / H])
    ax2 = ax.twinx()

    x, y = split(black)
    ax.plot(x, y, "-s", color="black", lw=0.9, ms=3.6, clip_on=x.min() >= 0,
            markevery=[i for i in range(len(x)) if x[i] >= 0])
    x, y = split(red)
    ax.plot(x, y, "-o", color="#e8161b", lw=0.9, ms=4.4, mec="#e8161b", clip_on=x.min() >= 0,
            markevery=[i for i in range(len(x)) if x[i] >= 0])
    x, y = split(rain)
    ax2.bar(x, y, width=0.6, color=BLUE, alpha=0.8, linewidth=0)

    ax.set_xlim(*xlim)
    ax.set_ylim(*ylim)
    ax2.set_ylim(*rlim)
    ax.set_xticks(month_start[:nmonths], [f"{prefix}{m}" for m in month_num[:nmonths]], fontweight="bold")
    ax.set_yticks(yticks, [str(t) for t in yticks], fontweight="bold")
    ax2.set_yticks(rticks, [str(t) for t in rticks], fontweight="bold", color=BLUE)
    for a in (ax, ax2):
        a.tick_params(direction="out", length=4, width=1.2, labelsize=11, pad=3)
        for s in a.spines.values():
            s.set_linewidth(1.2)
            s.set_color("#222222")
    year_box(ax2, rect, year)


panel((66, 562, 14, 137), "2012", d18o_2012, rmm_2012, rain_2012, (0, 184), (-2.22, 2.24),
      [-2, -1, 0, 1, 2], (0, 200), [0, 100, 200], 6)
panel((637, 1132, 14, 137), "2015", d18o_2015, rmm_2015, rain_2015, (0, 183), (-2.97, 2.22),
      [-2, 0, 2], (0, 150), [0, 50, 100, 150], 6, prefix="20-")
panel((66, 562, 176, 298), "2013", d18o_2013, rmm_2013, rain_2013, (0, 214), (-6, 4.06),
      [-6, -3, 0, 3], (0, 250), [0, 100, 200], 7)
panel((637, 1133, 176, 298), "2016", d18o_2016, rmm_2016, rain_2016, (0, 241), (-5, 4),
      [-4, -2, 0, 2, 4], (0, 200), [0, 50, 100, 150, 200], 8)
panel((66, 562, 342, 463), "2014", d18o_2014, rmm_2014, rain_2014, (0, 217), (-4, 3.85),
      [-3, 0, 3], (0, 152), [0, 50, 100, 150], 7)
panel((637, 1130, 340, 464), "2017", d18o_2017, rmm_2017, rain_2017, (0, 241), (-3, 4),
      [-2, 0, 2, 4], (0, 250), [0, 100, 200], 8)
panel((344, 839, 506, 631), "2018", d18o_2018, rmm_2018, rain_2018, (0, 240), (-5.15, 4.05),
      [-3, 0, 3], (0, 300), [0, 100, 200, 300], 8)

fig.text(16 / W, 1 - 316 / H, r"RMM1(Red Line) & Standardized δ$^{18}$O", rotation=90,
         ha="center", va="center", fontsize=14.5)
fig.text(1188 / W, 1 - 248 / H, "Rainfall (mm/day)", rotation=90, ha="center", va="center", fontsize=14.5)
fig.text(613 / W, 1 - 674 / H, "Date (d/mm)", ha="center", va="center", fontsize=15)

fig.savefig("out.png", dpi=100)
